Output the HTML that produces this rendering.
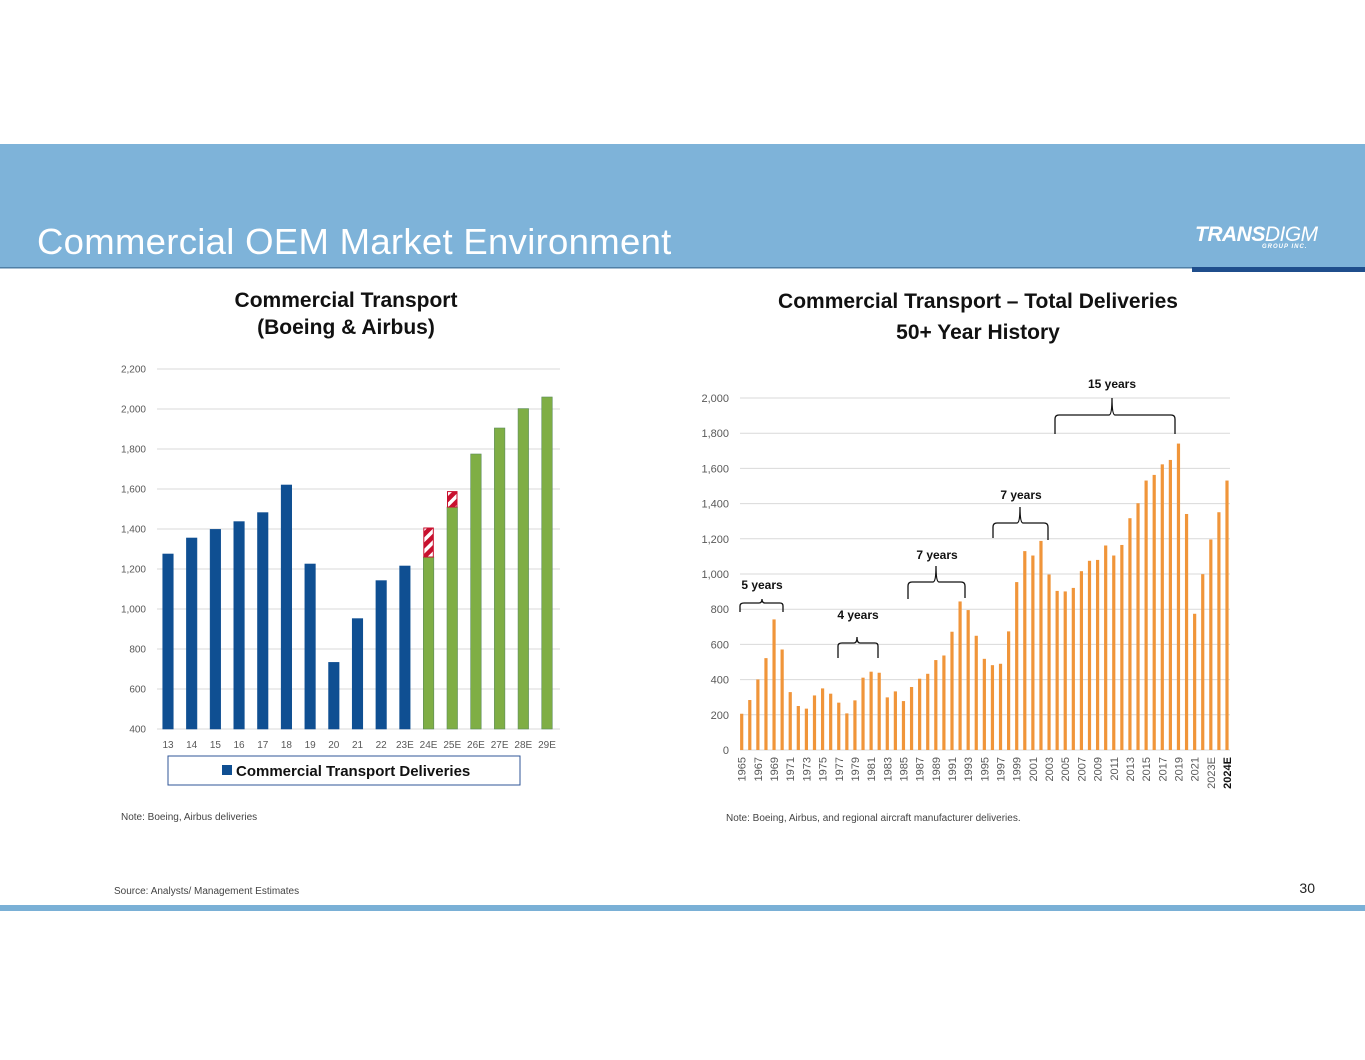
<!DOCTYPE html>
<html><head><meta charset="utf-8"><style>
body{margin:0;width:1365px;height:1055px;overflow:hidden;background:#fff;font-family:"Liberation Sans",sans-serif}
svg text{font-family:"Liberation Sans",sans-serif}
</style></head><body>
<svg id="s" width="1365" height="1055" xmlns="http://www.w3.org/2000/svg">
<defs>
<pattern id="hatch" patternUnits="userSpaceOnUse" width="8" height="8" patternTransform="rotate(-45)">
<rect width="8" height="8" fill="#c8102e"/><rect width="8" height="3.5" fill="#fff"/>
</pattern>
</defs>
<rect x="0" y="144" width="1365" height="123" fill="#7eb3d9"/>
<rect x="0" y="267" width="1365" height="1.5" fill="#4f7fa6"/>
<rect x="1192" y="267" width="173" height="5" fill="#1f4e8c"/>
<text x="37" y="254" font-size="36.5" fill="#fff" letter-spacing="0.3">Commercial OEM Market Environment</text>
<text x="1195" y="241" font-size="21" fill="#fff" font-style="italic" font-weight="bold" letter-spacing="-0.5">TRANS<tspan font-weight="normal">DIGM</tspan></text>
<text x="1262" y="248" font-size="6" fill="#fff" font-style="italic" font-weight="bold" letter-spacing="1">GROUP INC.</text>

<text x="346" y="307" font-size="21" font-weight="bold" text-anchor="middle" fill="#111">Commercial Transport</text>
<text x="346" y="334" font-size="21" font-weight="bold" text-anchor="middle" fill="#111">(Boeing &amp; Airbus)</text>
<text x="978" y="308" font-size="21" font-weight="bold" text-anchor="middle" fill="#111">Commercial Transport – Total Deliveries</text>
<text x="978" y="339" font-size="21" font-weight="bold" text-anchor="middle" fill="#111">50+ Year History</text>

<g id="left"></g>
<g id="right"></g>

<rect x="168" y="756" width="352" height="29" fill="#fff" stroke="#2f5597" stroke-width="1"/>
<rect x="222" y="765" width="10" height="10" fill="#0f4f92"/>
<text x="236" y="776" font-size="15" font-weight="bold" fill="#111">Commercial Transport Deliveries</text>

<text x="121" y="820" font-size="10" fill="#444">Note:  Boeing, Airbus deliveries</text>
<text x="726" y="821" font-size="10" fill="#444">Note:  Boeing, Airbus, and regional aircraft manufacturer deliveries.</text>
<text x="114" y="894" font-size="10" fill="#444">Source:  Analysts/ Management Estimates</text>
<text x="1315" y="893" font-size="14" fill="#222" text-anchor="end">30</text>
<rect x="0" y="905" width="1365" height="6" fill="#7ab0d6"/>

<g fill="none" stroke="#111" stroke-width="1.3">
<path d="M740,612 V606 Q740,603 744,603 H759 Q762,603 762,599 Q762,603 765,603 H780 Q783,603 783,606 V612"/>
<path d="M838,658 V646 Q838,643 842,643 H854 Q857,643 857,637 Q857,643 860,643 H875 Q878,643 878,646 V658"/>
<path d="M908,599 V586 Q908,582 912,582 H933 Q936,582 936,566 Q936,582 939,582 H961 Q965,582 965,586 V598"/>
<path d="M993,538 V527 Q993,523 997,523 H1017 Q1020,523 1020,507 Q1020,523 1023,523 H1044 Q1048,523 1048,527 V540"/>
<path d="M1055,434 V419 Q1055,415 1059,415 H1109 Q1112,415 1112,398 Q1112,415 1115,415 H1171 Q1175,415 1175,419 V434"/>
</g>
<g font-size="12" font-weight="bold" fill="#111" text-anchor="middle">
<text x="762" y="589">5 years</text>
<text x="858" y="619">4 years</text>
<text x="937" y="559">7 years</text>
<text x="1021" y="499">7 years</text>
<text x="1112" y="388">15 years</text>
</g>
</svg>
<script>
// Left chart data
const leftCats = ["13","14","15","16","17","18","19","20","21","22","23E","24E","25E","26E","27E","28E","29E"];
const leftBase = [1275,1355,1398,1437,1482,1620,1225,733,952,1142,1215,1260,1510,1775,1905,2002,2060];
const leftHatchTop = [0,0,0,0,0,0,0,0,0,0,0,1405,1587,0,0,0,0];
const leftForecast = [0,0,0,0,0,0,0,0,0,0,0,1,1,1,1,1,1];
const leftTicks = [400,600,800,1000,1200,1400,1600,1800,2000,2200];

// Right chart data
const rightCats = ["1965","1966","1967","1968","1969","1970","1971","1972","1973","1974","1975","1976","1977","1978","1979","1980","1981","1982","1983","1984","1985","1986","1987","1988","1989","1990","1991","1992","1993","1994","1995","1996","1997","1998","1999","2000","2001","2002","2003","2004","2005","2006","2007","2008","2009","2010","2011","2012","2013","2014","2015","2016","2017","2018","2019","2020","2021","2022","2023E","2024","2024E"];
const rightLabels = ["1965","","1967","","1969","","1971","","1973","","1975","","1977","","1979","","1981","","1983","","1985","","1987","","1989","","1991","","1993","","1995","","1997","","1999","","2001","","2003","","2005","","2007","","2009","","2011","","2013","","2015","","2017","","2019","","2021","","2023E","","2024E"];
const rightVals = [206,284,401,522,742,571,329,250,235,310,350,320,269,208,282,411,445,439,299,333,278,358,405,433,511,537,672,844,795,649,518,482,490,674,954,1130,1105,1188,997,904,901,921,1016,1075,1080,1162,1105,1165,1317,1402,1531,1563,1623,1648,1741,1341,774,999,1196,1351,1531];
const rightTicks = [0,200,400,600,800,1000,1200,1400,1600,1800,2000];

const NS="http://www.w3.org/2000/svg";
function mk(tag,attrs,parent){const e=document.createElementNS(NS,tag);for(const k in attrs)e.setAttribute(k,attrs[k]);parent.appendChild(e);return e;}

const L={x0:157,x1:560,y0:729,y1:369,min:400,max:2200};
const ly=v=>L.y0-(v-L.min)/(L.max-L.min)*(L.y0-L.y1);
const lx=i=>168+i*(547-168)/(leftCats.length-1);
const lg=document.getElementById('left');
leftTicks.forEach(t=>{
  const g=mk('line',{x1:L.x0,x2:L.x1,y1:ly(t),y2:ly(t),stroke:'#d9d9d9','stroke-width':1},lg);
  
  
  const tx=mk('text',{x:146,y:ly(t)+3.5,'font-size':10,fill:'#595959','text-anchor':'end'},lg);
  tx.textContent=t.toLocaleString('en-US');
  
  
});
leftCats.forEach((c,i)=>{
  const w=10.5,x=lx(i)-w/2;
  const b=mk('rect',{x:x,y:ly(leftBase[i]),width:w,height:L.y0-ly(leftBase[i]),fill:leftForecast[i]?'#7fae45':'#0f4f92',stroke:leftForecast[i]?'#5a8a5a':'#0f4f92','stroke-width':0.6},lg);
  
  
  if(leftHatchTop[i]){
    const h=mk('rect',{x:x+0.5,y:ly(leftHatchTop[i]),width:w-1,height:ly(leftBase[i])-ly(leftHatchTop[i]),fill:'url(#hatch)',stroke:'#c8102e','stroke-width':1},lg);
    
    
  }
  const t=mk('text',{x:lx(i),y:748,'font-size':10,fill:'#595959','text-anchor':'middle'},lg);
  t.textContent=c;
  
  
});

const R={x0:740,x1:1230,y0:750,y1:398,min:0,max:2000};
const ry=v=>R.y0-(v-R.min)/(R.max-R.min)*(R.y0-R.y1);
const rx=i=>741.7+i*(1227-741.7)/(rightCats.length-1);
const rg=document.getElementById('right');
rightTicks.forEach(t=>{
  const g=mk('line',{x1:R.x0,x2:R.x1,y1:ry(t),y2:ry(t),stroke:'#d9d9d9','stroke-width':1},rg);
  
  
  const tx=mk('text',{x:729,y:ry(t)+4,'font-size':11,fill:'#595959','text-anchor':'end'},rg);
  tx.textContent=t.toLocaleString('en-US');
  
  
});
rightCats.forEach((c,i)=>{
  const b=mk('rect',{x:rx(i)-1.6,y:ry(rightVals[i]),width:3.2,height:R.y0-ry(rightVals[i]),fill:'#f0953a'},rg);
  
  
  if(rightLabels[i]){
    const bold=rightLabels[i]==='2024E';
    const t=mk('text',{x:0,y:0,'font-size':11,fill:bold?'#111':'#595959','font-weight':bold?'bold':'normal','text-anchor':'end',transform:`translate(${rx(i)+4},757) rotate(-90)`},rg);
    t.textContent=rightLabels[i];
    
    
  }
});
</script>
</body></html>
